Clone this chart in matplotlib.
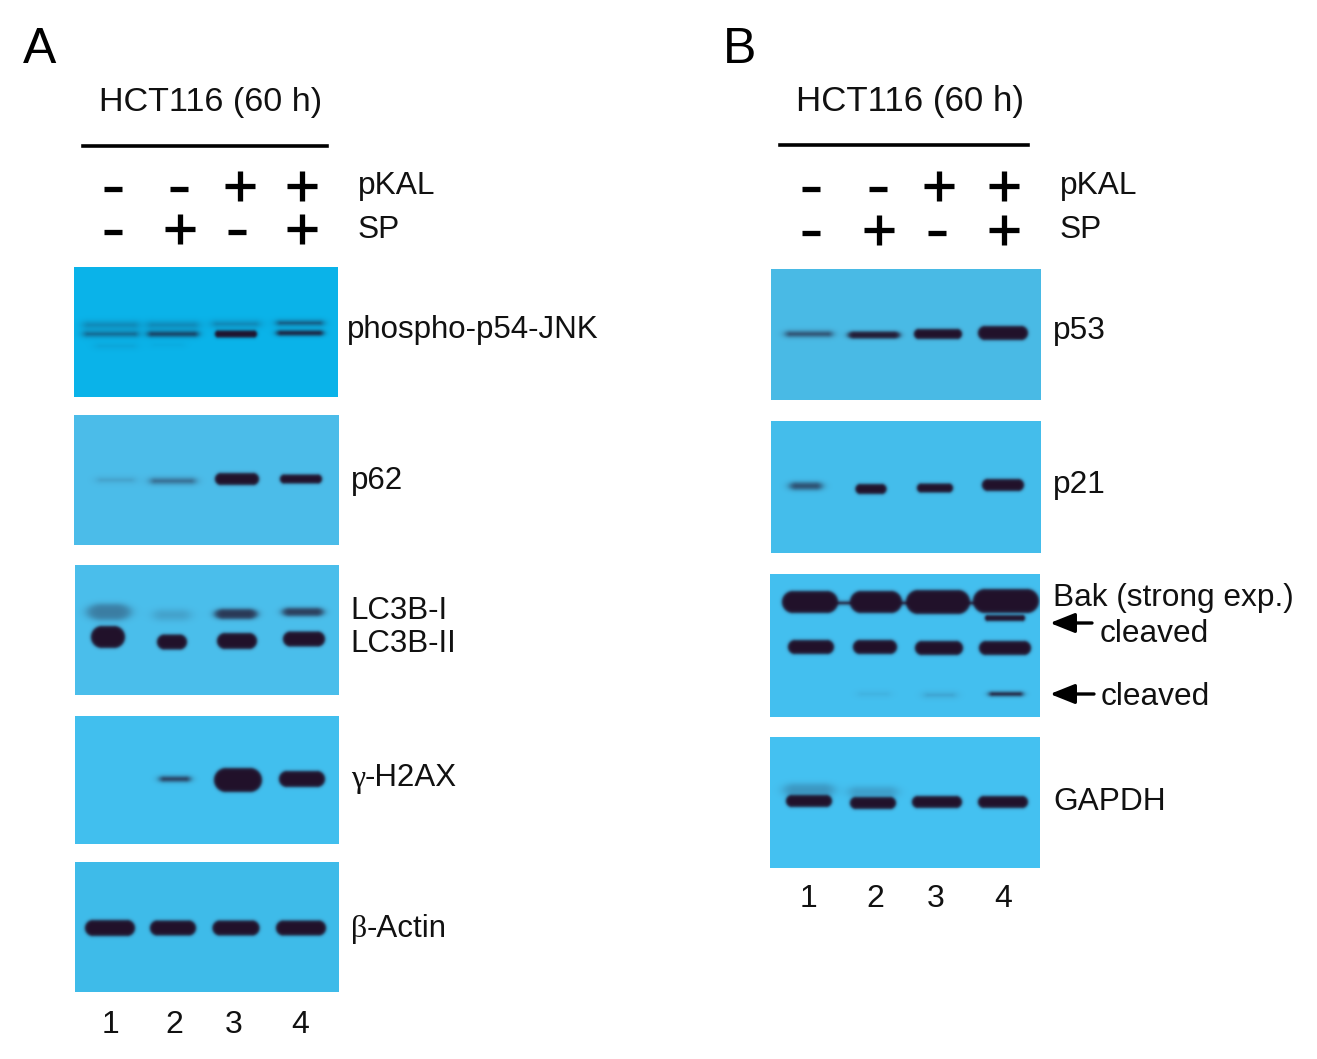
import numpy as np
import matplotlib
matplotlib.use('Agg')
import matplotlib.pyplot as plt
from matplotlib.colors import to_rgb

plt.rcParams['font.family'] = ['Liberation Sans', 'DejaVu Sans']

lanes = ['1', '2', '3', '4']
pkal = ['-', '-', '+', '+']
sp = ['-', '+', '-', '+']

jnk = [(111, 325, 25, 3, .28), (173, 325, 23, 3, .28), (236, 324, 21, 2.5, .3), (300, 323, 21, 2, .6),
       (111, 334, 25, 2.2, .5), (173, 334, 23, 2.5, .72), (236, 334, 21, 3.5, 1), (300, 333, 21, 2.5, .88),
       (116, 346, 18, 2, .1), (168, 345, 14, 1.5, .06)]
p62 = [(116, 480, 16, 1.5, .2), (173, 481, 20, 2.5, .5), (237, 479, 22, 6, 1), (301, 479, 21, 4.5, 1)]
lc3b = [(109, 612, 15, 8, .38), (172, 615, 14, 5, .17), (236, 614, 17, 5, .78), (303, 612, 17, 4, .75),
        (108, 637, 17, 11, 1), (172, 642, 15, 7.5, 1), (237, 641, 20, 8, 1), (304, 639, 21, 7.5, 1)]
h2ax = [(175, 779, 13, 2.5, .75), (238, 780, 24, 12, 1), (302, 779, 23, 8, 1)]
actin = [(110, 928, 25, 8, 1), (173, 928, 23, 7.5, 1), (236, 928, 23.5, 7.5, 1), (301, 928, 25, 7.5, 1)]
p53 = [(809, 334, 21, 2.5, .65), (874, 335, 23, 3.5, .95), (938, 334, 24, 5, 1), (1003, 333, 25, 7, 1)]
p21 = [(806, 486, 13, 3.5, .65), (871, 489, 15.5, 5, 1), (935, 488, 18, 4.5, 1), (1003, 485, 21, 6, 1)]
bak = [(810, 602, 28, 11, 1), (876, 602, 26, 11, 1), (938, 602, 32, 12, 1), (1006, 601, 33, 12, 1),
       (844, 603, 8, 1.5, .9), (905, 603, 6, 1.5, .9), (972, 603, 6, 1.5, .9),
       (1005, 618, 20, 3, 1),
       (811, 647, 23, 7, 1), (875, 647, 22, 7, 1), (939, 648, 24, 7, 1), (1005, 648, 26, 7, 1),
       (874, 694, 13, 1.5, .1), (940, 695, 13, 1.5, .2), (1006, 694, 15, 2, .9)]
gapdh = [(809, 790, 20, 6, .25), (873, 792, 20, 5, .2),
         (809, 801, 23, 6, 1), (873, 803, 23, 6, 1), (937, 802, 25, 6, 1), (1003, 802, 25, 6, 1)]

# x0, x1, y0, y1, film colour, bands
blots = [
    (74, 338, 267, 397, '#0ab4ea', jnk),
    (74, 339, 415, 545, '#4cbdea', p62),
    (75, 339, 565, 695, '#4bbfec', lc3b),
    (75, 339, 716, 844, '#42c0ef', h2ax),
    (75, 339, 862, 992, '#3fbcea', actin),
    (771, 1041, 269, 400, '#4abbe6', p53),
    (771, 1041, 421, 553, '#45beec', p21),
    (770, 1040, 574, 717, '#44c0f0', bak),
    (770, 1040, 737, 868, '#45c2f2', gapdh),
]

labels_a = [('phospho-p54-JNK', 347, 330), ('p62', 351, 481), ('LC3B-I', 350, 611), ('LC3B-II', 350, 644),
            ('-H2AX', 365, 778), ('-Actin', 367, 929)]
labels_b = [('p53', 1053, 331), ('p21', 1053, 485), ('Bak (strong exp.)', 1053, 598), ('cleaved', 1100, 634),
            ('cleaved', 1101, 697), ('GAPDH', 1053, 802)]
greek = [('γ', 351, 779), ('β', 351, 930)]


def draw_blot(ax, x0, x1, y0, y1, color, bands):
    xx, yy = np.meshgrid(np.arange(x0, x1) + .5, np.arange(y0, y1) + .5)
    clear = np.ones_like(xx)
    for cx, cy, w, h, s in bands:
        # capsule shaped band, weak bands get a softer edge
        dx = np.maximum(np.abs(xx - cx) - (w - h), 0)
        if s < 1:
            dx = dx * .55
        dist = np.sqrt(dx ** 2 + (yy - cy) ** 2) - h
        soft = .9 + (1 - s) * 1.2
        clear *= 1 - s / (1 + np.exp(np.clip(dist / soft, -30, 30)))
    back = np.array(to_rgb(color))
    dark = np.array(to_rgb('#21112a'))
    img = clear[..., None] * back + (1 - clear[..., None]) * dark
    ax.imshow(img, extent=(x0, x1, y1, y0), interpolation='bilinear', aspect='auto', zorder=1)


def draw_signs(ax, signs, xs, y):
    for x, sign in zip(xs, signs):
        if sign == '+':
            ax.plot([x - 15, x + 15], [y, y], color='black', lw=3.8, solid_capstyle='butt')
            ax.plot([x, x], [y - 15, y + 15], color='black', lw=3.8, solid_capstyle='butt')
        else:
            ax.plot([x - 9, x + 9], [y + 3, y + 3], color='black', lw=3.8, solid_capstyle='butt')


fig = plt.figure(figsize=(13.17, 10.59), dpi=100)
ax = fig.add_axes([0, 0, 1, 1])

for x0, x1, y0, y1, color, bands in blots:
    draw_blot(ax, x0, x1, y0, y1, color, bands)

ax.set_xlim(0, 1317)
ax.set_ylim(1059, 0)
ax.axis('off')

# panel letters and headers
ax.text(23, 50, 'A', fontsize=36, va='center', ha='left')
ax.text(723, 50, 'B', fontsize=36, va='center', ha='left')
ax.text(211, 103, 'HCT116 (60 h)', fontsize=24.6, va='center', ha='center', color='#111111')
ax.text(910, 101, 'HCT116 (60 h)', fontsize=25.1, va='center', ha='center', color='#111111')
ax.plot([83, 327], [146, 146], color='black', lw=2.6)
ax.plot([780, 1028], [145, 145], color='black', lw=2.6)

draw_signs(ax, pkal, [113, 179, 240, 302], 186)
draw_signs(ax, sp, [113, 180, 237, 302], 229)
draw_signs(ax, pkal, [811, 878, 939, 1004], 186)
draw_signs(ax, sp, [811, 879, 937, 1004], 230)

for name, y in [('pKAL', 186), ('SP', 230)]:
    ax.text(358, y, name, fontsize=22.8, va='center', ha='left', color='#111111')
    ax.text(1060, y, name, fontsize=22.8, va='center', ha='left', color='#111111')

for text, x, y in labels_a:
    ax.text(x, y, text, fontsize=22.5, va='center', ha='left', color='#111111')
for text, x, y in labels_b:
    ax.text(x, y, text, fontsize=22.8, va='center', ha='left', color='#111111')
for text, x, y in greek:
    ax.text(x, y, text, fontsize=23, va='center', ha='left', color='#111111',
            family=['Liberation Serif', 'DejaVu Serif'])

for lane, x in zip(lanes, [110, 174, 234, 300]):
    ax.text(x, 1025, lane, fontsize=23, va='center', ha='center', color='#111111')
for lane, x in zip(lanes, [808, 875, 936, 1003]):
    ax.text(x, 899, lane, fontsize=23, va='center', ha='center', color='#111111')

# arrows to the cleaved Bak bands
for y, x_tail in [(623, 1092), (694, 1094)]:
    ax.annotate('', xy=(1050, y), xytext=(x_tail, y),
                arrowprops=dict(arrowstyle='-|>,head_length=1.5,head_width=0.6', color='black', lw=2.4,
                                shrinkA=0, shrinkB=0))

fig.savefig('out.png', dpi=100)
